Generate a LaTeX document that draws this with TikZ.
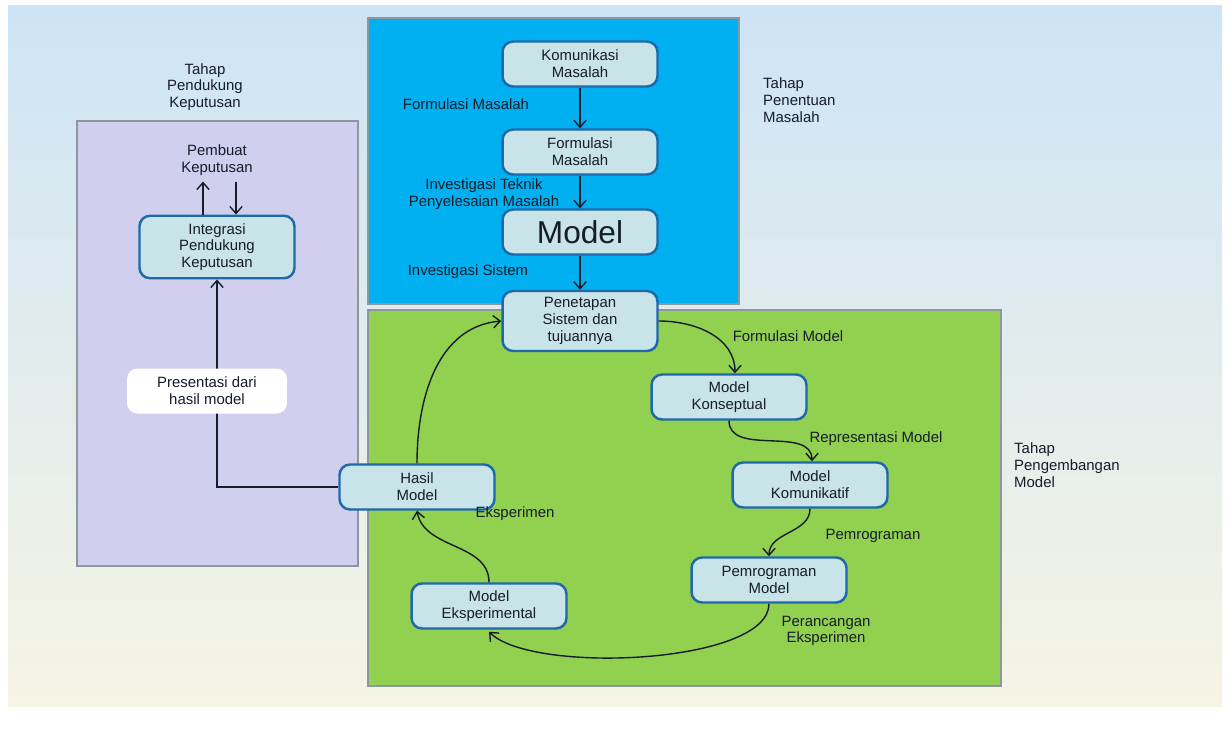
\documentclass[tikz,border=0pt]{standalone}
\usepackage{fontspec}
\setmainfont{Liberation Sans}
\usepackage{tikz}
\usetikzlibrary{arrows.meta,calc}
\definecolor{skyblue}{RGB}{0, 176, 240}
\definecolor{grassgreen}{RGB}{146, 208, 80}
\definecolor{lavender}{RGB}{208, 208, 238}
\definecolor{boxfill}{RGB}{200, 228, 232}
\definecolor{boxline}{RGB}{30, 105, 170}
\definecolor{panelline}{RGB}{140, 152, 160}
\definecolor{inkdark}{RGB}{22, 28, 42}
\definecolor{bgtop}{RGB}{205, 228, 246}
\definecolor{bgbottom}{RGB}{246, 244, 228}

\begin{document}
\begin{tikzpicture}[x=0.02cm, y=-0.02cm,
	every node/.style = {font=\fontsize{8.5}{9.5}\selectfont, text=inkdark, align=center},
	stepbox/.style = {draw=boxline, line width=1.4pt, fill=boxfill, rounded corners=6pt,
		minimum width=3.1cm, minimum height=0.9cm, inner sep=1pt},
	flow/.style = {draw=inkdark, line width=0.8pt, -{Straight Barb[length=4pt,width=7pt]}},
	panel/.style = {draw=panelline, line width=1.4pt}]
			% background
			\fill[white] (0,0) rectangle (1227,734);
			\shade[top color=bgtop, bottom color=bgbottom] (8,5) rectangle (1222,706);
			\useasboundingbox (0,0) rectangle (1227,734);
			% panels
			\filldraw[panel, fill=lavender] (77,121) rectangle (358,566);
			\filldraw[panel, fill=skyblue] (368,18) rectangle (739,304);
			\filldraw[panel, fill=grassgreen] (368,310) rectangle (1001,686);
			% stage titles
			\node (tpk) at (205,87) {Tahap\\Pendukung\\Keputusan};
			\node (tpm) at (757,100) [anchor=west, align=left] {Tahap\\Penentuan\\Masalah};
			\node (tpg) at (1008,465) [anchor=west, align=left] {Tahap\\Pengembangan\\Model};
			% boxes
			\node (kom) at (580,64) [stepbox] {Komunikasi\\Masalah};
			\node (form) at (580,152) [stepbox] {Formulasi\\Masalah};
			\node (model) at (580,232) [stepbox, font=\fontsize{18}{20}\selectfont] {Model};
			\node (pen) at (580,321) [stepbox, minimum height=1.2cm] {Penetapan\\Sistem dan\\tujuannya};
			\node (kon) at (729,397) [stepbox] {Model\\Konseptual};
			\node (kmk) at (810,485) [stepbox] {Model\\Komunikatif};
			\node (prg) at (769,580) [stepbox] {Pemrograman\\Model};
			\node (eks) at (489,606) [stepbox] {Model\\Eksperimental};
			\node (hsl) at (417,487) [stepbox] {Hasil\\Model};
			\node (itg) at (217,247) [stepbox, minimum height=1.25cm] {Integrasi\\Pendukung\\Keputusan};
			\node (pbt) at (217,160) {Pembuat\\Keputusan};
			% connectors
			\draw[flow] (kom) -- (form);
			\draw[flow] (form) -- (model);
			\draw[flow] (model) -- (pen);
			\draw[flow] (pen.east) to[out=0, in=90] ($(kon.north)+(6,0)$);
			\draw[flow] (kon.south) to[out=-90, in=90] ($(kmk.north)+(2,0)$);
			\draw[flow] (kmk.south) to[out=-90, in=90] (prg.north);
			\draw[flow] (prg.south) to[out=-90, in=-45, looseness=0.55] ($(eks.south)+(0,2)$);
			\draw[flow] (eks.north) to[out=90, in=-80] (hsl.south);
			\draw[flow] (hsl.north) to[out=90, in=185] (pen.west);
			\draw[flow] (hsl.west) -| (itg.south);
			\draw[flow] ($(itg.north)+(-14,0)$) -- ($(pbt.south)+(-14,0)$);
			\draw[flow] ($(pbt.south)+(19,0)$) -- ($(itg.north)+(19,0)$);
			\node (pres) at (207,391) [fill=white, rounded corners=6pt, minimum width=3.2cm, minimum height=0.9cm] {Presentasi dari\\hasil model};
			% edge labels
			\node (l1) at (466,104) {Formulasi Masalah};
			\node (l2) at (484,194) {Investigasi Teknik\\Penyelesaian Masalah};
			\node (l3) at (468,272) {Investigasi Sistem};
			\node (l4) at (788,336) {Formulasi Model};
			\node (l5) at (876,439) {Representasi Model};
			\node (l6) at (873,536) {Pemrograman};
			\node (l7) at (826,631) {Perancangan\\Eksperimen};
			\node (l8) at (515,514) {Eksperimen};
\end{tikzpicture}
\end{document}
